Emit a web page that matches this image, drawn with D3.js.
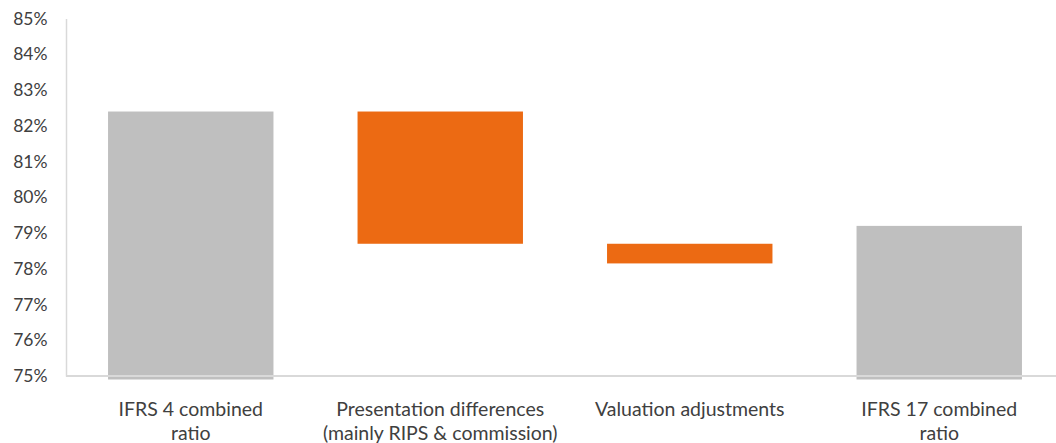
<!DOCTYPE html>
<html>
<head>
<meta charset="utf-8">
<script src="https://cdn.jsdelivr.net/npm/d3@7"></script>
<style>
html,body{margin:0;padding:0;background:#fff;}
svg{display:block;}
text{font-family:"Lato","Open Sans",sans-serif;fill:#404040;}
</style>
</head>
<body>
<svg id="chart" width="1056" height="443"></svg>
<script>
const categories = [
  ["IFRS 4 combined", "ratio"],
  ["Presentation differences", "(mainly RIPS & commission)"],
  ["Valuation adjustments"],
  ["IFRS 17 combined", "ratio"]
];
const barStart = [null, 82.4, 78.7, null];   // null = total bar from axis
const barEnd   = [82.4, 78.7, 78.15, 79.2];
const barType  = ["total", "step", "step", "total"];
const yTicks   = [75, 76, 77, 78, 79, 80, 81, 82, 83, 84, 85];

const svg = d3.select("#chart");
const keys = categories.map((c, i) => i);
const x = d3.scaleBand().domain(keys).range([66, 1064]).paddingInner(0.337).paddingOuter(0.1685);
const y = d3.scaleLinear().domain([75, 85]).range([376, 18.6]);
const colors = {total: "#bfbfbf", step: "#ec6a13"};

// bars
svg.append("g").selectAll("rect").data(keys).join("rect")
  .attr("x", i => x(i))
  .attr("width", x.bandwidth())
  .attr("y", i => y(Math.max(barEnd[i], barStart[i] == null ? 75 : barStart[i])))
  .attr("height", i => {
    const top = y(Math.max(barEnd[i], barStart[i] == null ? 75 : barStart[i]));
    const bot = barStart[i] == null ? y(75) + 3.5 : y(Math.min(barEnd[i], barStart[i]));
    return bot - top;
  })
  .attr("fill", i => colors[barType[i]]);

// y axis
const yAxis = d3.axisLeft(y).tickValues(yTicks).tickFormat(d => d + "%").tickSize(0).tickPadding(18.5);
const gy = svg.append("g").attr("transform", "translate(66,0)").call(yAxis);
gy.select(".domain").attr("stroke", "#d9d9d9").attr("stroke-width", 1.5);
gy.selectAll("text").attr("font-size", 17.5).attr("fill", "#404040").style("font-family", "Lato, 'Open Sans', sans-serif");

// x axis line
const xAxis = d3.axisBottom(x).tickSize(0).tickFormat("");
const gx = svg.append("g").attr("transform", "translate(0,376)").call(xAxis);
gx.select(".domain").attr("stroke", "#d9d9d9").attr("stroke-width", 2).attr("d", "M66,0H1056");

// category labels
const lab = svg.append("g").selectAll("text").data(keys).join("text")
  .attr("text-anchor", "middle")
  .attr("font-size", 19.5)
  .attr("x", i => x(i) + x.bandwidth() / 2)
  .attr("y", 415.5);
lab.selectAll("tspan").data(i => categories[i].map(t => ({t, i}))).join("tspan")
  .attr("x", d => x(d.i) + x.bandwidth() / 2)
  .attr("dy", (d, k) => k === 0 ? 0 : 24.5)
  .text(d => d.t);
</script>
</body>
</html>
